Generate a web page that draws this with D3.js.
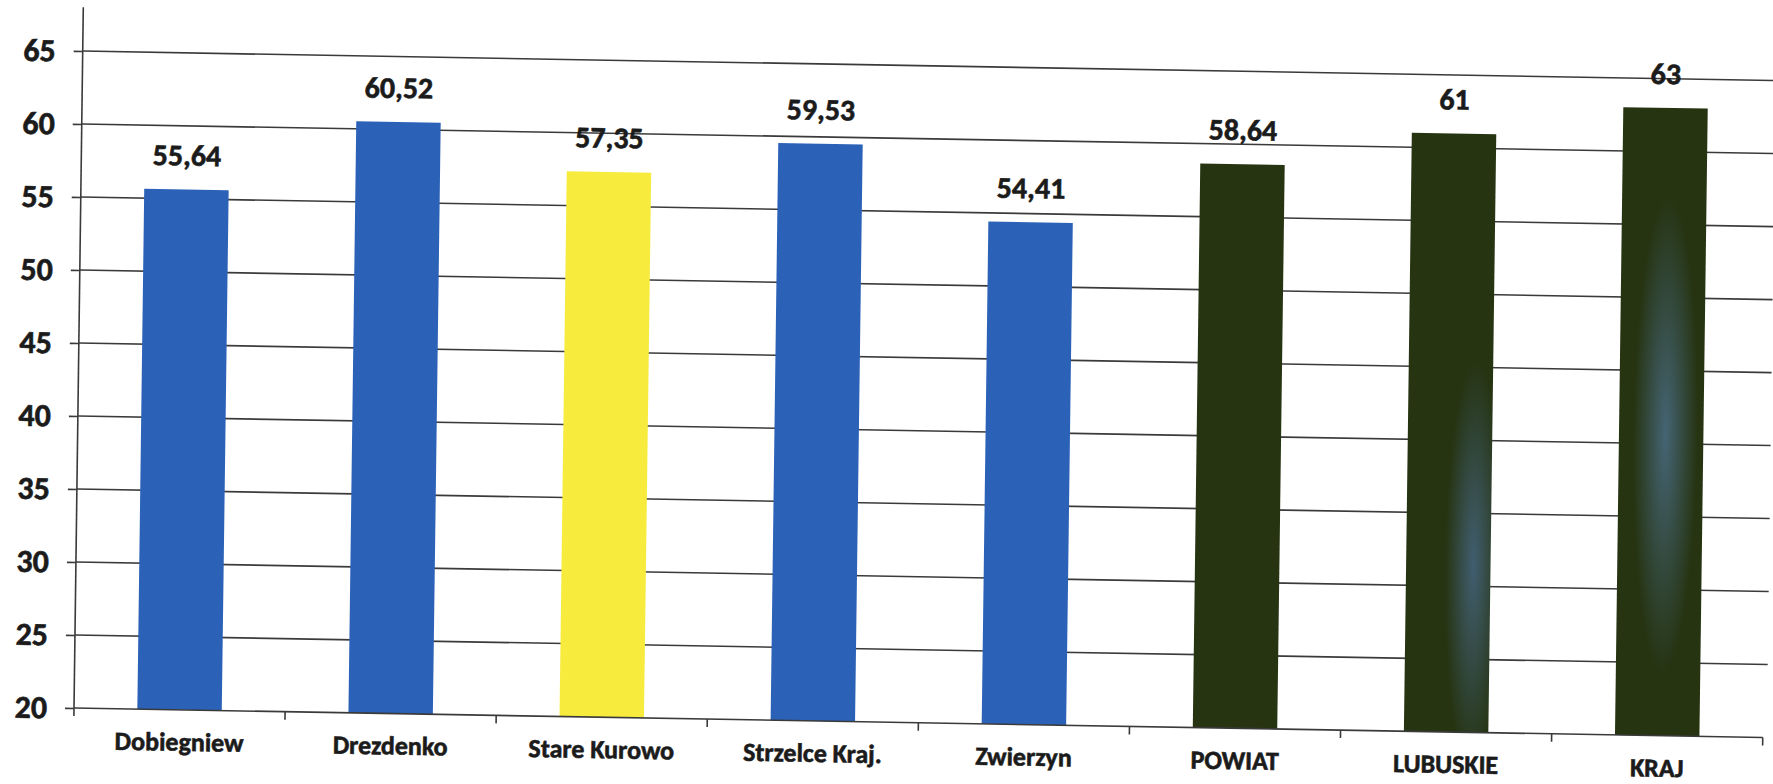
<!DOCTYPE html>
<html>
<head>
<meta charset="utf-8">
<script src="https://cdn.jsdelivr.net/npm/d3@7/dist/d3.min.js"></script>
<style>
  html, body { margin: 0; padding: 0; background: #ffffff; }
  svg { display: block; }
  text { font-family: Carlito, Calibri, Lato, "Open Sans", sans-serif; font-weight: 700; fill: #1b1b1b; stroke: #1b1b1b; stroke-width: 0.6px; }
</style>
</head>
<body>
<svg id="chart" width="1773" height="784"></svg>
<script>
// ---- data ----
const categories = ["Dobiegniew", "Drezdenko", "Stare Kurowo", "Strzelce Kraj.", "Zwierzyn", "POWIAT", "LUBUSKIE", "KRAJ"];
const values = [55.64, 60.52, 57.35, 59.53, 54.41, 58.64, 61, 63];
const valueLabels = ["55,64", "60,52", "57,35", "59,53", "54,41", "58,64", "61", "63"];
const groups = ["gmina", "gmina", "selected", "gmina", "gmina", "aggregate", "aggregate", "aggregate"];
const yTicks = [20, 25, 30, 35, 40, 45, 50, 55, 60, 65];

// ---- styles ----
const fills = { gmina: "#2B62B7", selected: "#F7EB3D", aggregate: "#263412" };

const svg = d3.select("#chart");
const W = 1689, unit5 = 73;

const defs = svg.append("defs");
const g1 = defs.append("radialGradient").attr("id", "streakL").attr("cx", 0.8).attr("cy", 0.72).attr("r", 0.34);
g1.append("stop").attr("offset", "0%").attr("stop-color", "#415e70");
g1.append("stop").attr("offset", "100%").attr("stop-color", "#263412");
const g2 = defs.append("radialGradient").attr("id", "streakK").attr("cx", 0.55).attr("cy", 0.52).attr("r", 0.38);
g2.append("stop").attr("offset", "0%").attr("stop-color", "#456474");
g2.append("stop").attr("offset", "100%").attr("stop-color", "#263412");
const specialFill = { "LUBUSKIE": "url(#streakL)", "KRAJ": "url(#streakK)" };

const x = d3.scaleBand().domain(categories).range([0, W]).paddingInner(0.6).paddingOuter(0.3);
const y = d3.scaleLinear().domain([20, 65]).range([0, -unit5 * 9]);

// scanned page is slightly tilted
const root = svg.append("g").attr("transform", "translate(74,708) rotate(1.0) skewX(0.24)");

// gridlines
root.append("g").selectAll("line").data(yTicks.filter(d => d > 20)).join("line")
  .attr("x1", 0).attr("x2", W + 4)
  .attr("y1", d => y(d)).attr("y2", d => y(d))
  .attr("stroke", "#3a3a3a").attr("stroke-width", 1.6);

// bars
root.append("g").selectAll("rect").data(categories).join("rect")
  .attr("x", d => x(d))
  .attr("width", x.bandwidth())
  .attr("y", (d, i) => y(values[i]))
  .attr("height", (d, i) => y(20) - y(values[i]))
  .attr("fill", (d, i) => specialFill[d] || fills[groups[i]]);

// value labels
root.append("g").selectAll("text").data(categories).join("text")
  .attr("x", d => x(d) + x.bandwidth() / 2)
  .attr("y", (d, i) => y(values[i]) - 24)
  .attr("text-anchor", "middle")
  .style("font-size", "30px")
  .text((d, i) => valueLabels[i]);

// y axis
const yAxis = root.append("g").call(d3.axisLeft(y).tickValues(yTicks).tickSize(9).tickPadding(18));
yAxis.select(".domain").remove();
yAxis.selectAll("line").attr("stroke", "#3a3a3a").attr("stroke-width", 1.6);
yAxis.selectAll("text").style("font-size", "32px").attr("fill", "#1b1b1b");
root.append("line").attr("x1", 0).attr("x2", 0).attr("y1", y(20)).attr("y2", y(68))
  .attr("stroke", "#3a3a3a").attr("stroke-width", 1.6);

// x axis
const xAxis = root.append("g").call(d3.axisBottom(x).tickSize(0));
xAxis.select(".domain").remove();
xAxis.selectAll("text").attr("y", 41).attr("dy", 0).style("font-size", "26px").attr("fill", "#1b1b1b");
root.append("line").attr("x1", 0).attr("x2", W).attr("y1", 0).attr("y2", 0)
  .attr("stroke", "#3a3a3a").attr("stroke-width", 1.6);
const gap = (x.step() - x.bandwidth()) / 2;
const boundaries = categories.map(c => x(c) - gap).concat([x(categories[categories.length - 1]) + x.bandwidth() + gap]);
root.append("g").selectAll("line").data(boundaries).join("line")
  .attr("x1", d => d).attr("x2", d => d).attr("y1", 0).attr("y2", 8)
  .attr("stroke", "#3a3a3a").attr("stroke-width", 1.6);
</script>
</body>
</html>
